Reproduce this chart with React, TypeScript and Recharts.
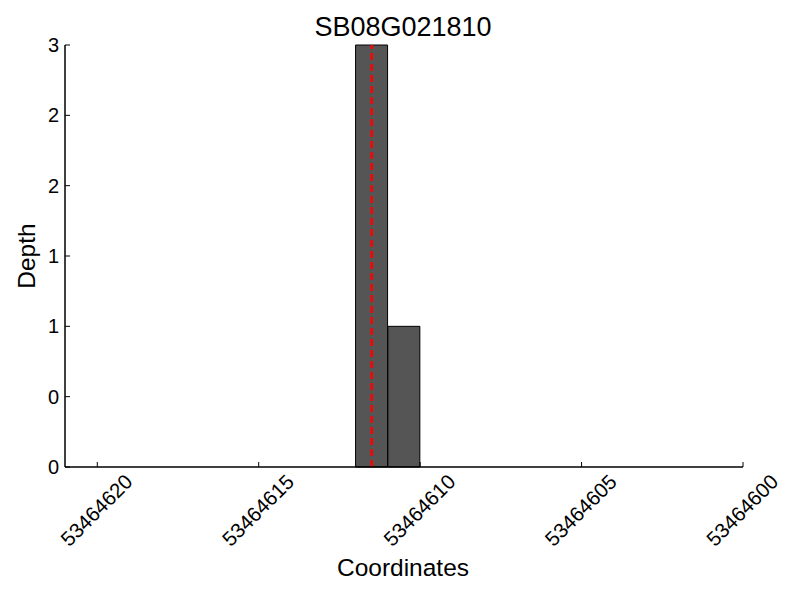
import React from 'react'
import { Bar, ComposedChart, ReferenceLine, XAxis, YAxis } from 'recharts'

const title = 'SB08G021810'
const binStarts = [53464611, 53464610]
const depths = [3, 1]
const markerPos = 53464611.5
const xTicks = [53464620, 53464615, 53464610, 53464605, 53464600]
const yTicks = [0, 0.5, 1, 1.5, 2, 2.5, 3]

const data = binStarts.map((s, i) => ({ pos: s + 0.5, depth: depths[i] }))

const FONT = '"Liberation Sans", Arial, sans-serif'

function XTick(props: any) {
  const { x, y, payload } = props
  const tx = x - 1
  const ty = y + 43
  return (
    <g>
      <line x1={x} y1={y} x2={x} y2={y - 5} stroke="#000" strokeWidth={1} />
      <text
        x={tx}
        y={ty}
        transform={`rotate(-45 ${tx} ${ty})`}
        textAnchor="middle"
        dominantBaseline="central"
        fontSize={20.5}
        fontFamily={FONT}
        fill="#000"
      >
        {payload.value}
      </text>
    </g>
  )
}

function YTick(props: any) {
  const { x, y, payload } = props
  return (
    <g>
      <line x1={x} y1={y} x2={x + 5} y2={y} stroke="#000" strokeWidth={1} />
      <text
        x={x - 6}
        y={y}
        textAnchor="end"
        dominantBaseline="central"
        fontSize={20}
        fontFamily={FONT}
        fill="#000"
      >
        {Math.trunc(payload.value)}
      </text>
    </g>
  )
}

export default function App() {
  return (
    <div
      style={{
        position: 'absolute',
        left: 0,
        top: 0,
        width: 800,
        height: 600,
        background: '#fff',
        fontFamily: FONT,
      }}
    >
      <ComposedChart
        width={800}
        height={600}
        data={data}
        margin={{ top: 45, right: 57, bottom: 73, left: 0 }}
        barCategoryGap={0}
        barGap={0}
      >
        <XAxis
          dataKey="pos"
          type="number"
          domain={[53464600, 53464621]}
          reversed
          ticks={xTicks}
          interval={0}
          height={60}
          tickSize={0}
          tickMargin={0}
          tickLine={false}
          tick={<XTick />}
          axisLine={{ stroke: '#000', strokeWidth: 1.5 }}
          allowDataOverflow
        />
        <YAxis
          type="number"
          domain={[0, 3]}
          ticks={yTicks}
          interval={0}
          width={65}
          tickSize={0}
          tickMargin={0}
          tickLine={false}
          tick={<YTick />}
          axisLine={{ stroke: '#000', strokeWidth: 1.5 }}
        />
        <Bar
          dataKey="depth"
          fill="#555555"
          stroke="#000"
          strokeWidth={1}
          isAnimationActive={false}
        />
        <ReferenceLine
          x={markerPos}
          stroke="#ff0000"
          strokeWidth={2.5}
          strokeOpacity={1}
          strokeDasharray="7 4"
        />
      </ComposedChart>
      <div
        style={{
          position: 'absolute',
          left: 0,
          width: 806,
          top: 12,
          textAlign: 'center',
          fontSize: 27,
          lineHeight: '30px',
        }}
      >
        {title}
      </div>
      <div
        style={{
          position: 'absolute',
          left: 0,
          width: 806,
          top: 553,
          textAlign: 'center',
          fontSize: 24.5,
          lineHeight: '30px',
        }}
      >
        Coordinates
      </div>
      <div
        style={{
          position: 'absolute',
          left: 27,
          top: 256,
          transform: 'translate(-50%, -50%) rotate(-90deg)',
          fontSize: 24.5,
          lineHeight: '30px',
          whiteSpace: 'nowrap',
        }}
      >
        Depth
      </div>
    </div>
  )
}
